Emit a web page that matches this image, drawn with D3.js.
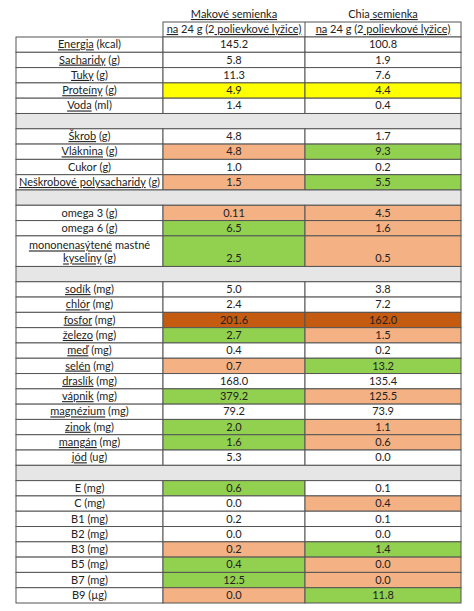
<!DOCTYPE html>
<html>
<head>
<meta charset="UTF-8">
<script src="https://cdn.jsdelivr.net/npm/d3@7"></script>
<style>
  body { margin: 0; background: #fff; }
  text { font-family: Lato, "Open Sans", sans-serif; font-size: 11px; fill: #222; }
  .sp { text-decoration: underline wavy #e03030; }
</style>
</head>
<body>
<svg id="chart" width="474" height="611"></svg>
<script>
// rows: label, poppy value, chia value ("" = gray separator row)
const labels = ['Energia (kcal)', 'Sacharidy (g)', 'Tuky (g)', 'Proteíny (g)', 'Voda (ml)', '',
  'Škrob (g)', 'Vláknina (g)', 'Cukor (g)', 'Neškrobové polysacharidy (g)', '',
  'omega 3 (g)', 'omega 6 (g)', 'mononenasýtené mastné|kyseliny (g)', '',
  'sodík (mg)', 'chlór (mg)', 'fosfor (mg)', 'železo (mg)', 'meď (mg)', 'selén (mg)', 'draslík (mg)',
  'vápnik (mg)', 'magnézium (mg)', 'zinok (mg)', 'mangán (mg)', 'jód (ug)', '',
  'E (mg)', 'C (mg)', 'B1 (mg)', 'B2 (mg)', 'B3 (mg)', 'B5 (mg)', 'B7 (mg)', 'B9 (µg)'];
const makValues = ['145.2', '5.8', '11.3', '4.9', '1.4', '', '4.8', '4.8', '1.0', '1.5', '',
  '0.11', '6.5', '2.5', '', '5.0', '2.4', '201.6', '2.7', '0.4', '0.7', '168.0', '379.2', '79.2',
  '2.0', '1.6', '5.3', '', '0.6', '0.0', '0.2', '0.0', '0.2', '0.4', '12.5', '0.0'];
const chiaValues = ['100.8', '1.9', '7.6', '4.4', '0.4', '', '1.7', '9.3', '0.2', '5.5', '',
  '4.5', '1.6', '0.5', '', '3.8', '7.2', '162.0', '1.5', '0.2', '13.2', '135.4', '125.5', '73.9',
  '1.1', '0.6', '0.0', '', '0.1', '0.4', '0.1', '0.0', '1.4', '0.0', '0.0', '11.8'];
// cell highlight: y yellow, s salmon, g green, o dark orange
const makColors = ['', '', '', 'y', '', '', '', 's', '', 's', '', 's', 'g', 'g', '', '', '', 'o', 'g', '', 's', '', 'g', '',
  'g', 'g', '', '', 'g', '', '', '', 's', 'g', 'g', 's'];
const chiaColors = ['', '', '', 'y', '', '', '', 'g', '', 'g', '', 's', 's', 's', '', '', '', 'o', 's', '', 'g', '', 's', '',
  's', 's', '', '', '', 's', '', '', 'g', 's', 's', 'g'];
const headers = ['Makové semienka', 'Chia semienka'];
const subHeader = 'na 24 g (2 polievkové lyžice)';
const misspelled = new Set(['Makové', 'semienka', 'na', 'polievkové', 'lyžice)', 'Energia', 'Sacharidy', 'Tuky',
  'Proteíny', 'Voda', 'Škrob', 'Vláknina', 'Neškrobové', 'polysacharidy', 'mononenasýtené', 'kyseliny',
  'sodík', 'chlór', 'fosfor', 'železo', 'meď', 'selén', 'draslík', 'vápnik', 'magnézium', 'zinok', 'mangán', 'jód']);

const fills = { y: '#ffff00', s: '#f4b183', g: '#92d050', o: '#c55a11', '': '#ffffff' };
const svg = d3.select('#chart');

// unit positions (double-height row for multi-line label)
const units = labels.map(l => l.includes('|') ? 2 : 1);
const starts = d3.cumsum([0, ...units]);
const total = starts[starts.length - 1];
const y = d3.scaleLinear().domain([0, total]).range([37, 603]);
const x = d3.scaleOrdinal().domain(['label', 'mak', 'chia', 'end']).range([16, 163, 305, 461]);

function addWords(t, str) {
  str.split(' ').forEach((w, i) => {
    t.append('tspan').attr('class', misspelled.has(w) ? 'sp' : null).text((i ? ' ' : '') + w);
  });
}

// header
headers.forEach((h, i) => {
  const cx = (x(['mak', 'chia'][i]) + x(['chia', 'end'][i])) / 2;
  const t = svg.append('text').attr('x', cx).attr('y', 18).attr('text-anchor', 'middle');
  addWords(t, h);
  const t2 = svg.append('text').attr('x', cx).attr('y', 33).attr('text-anchor', 'middle');
  addWords(t2, subHeader);
});
svg.append('rect').attr('x', x('mak')).attr('y', 22).attr('width', x('end') - x('mak')).attr('height', 15)
  .attr('fill', 'none').attr('stroke', '#555');
svg.append('line').attr('x1', x('chia')).attr('x2', x('chia')).attr('y1', 22).attr('y2', 37).attr('stroke', '#555');

labels.forEach((lab, i) => {
  const y0 = y(starts[i]), y1 = y(starts[i + 1]);
  const g = svg.append('g');
  if (lab === '') {
    g.append('rect').attr('x', x('label')).attr('y', y0).attr('width', x('end') - x('label')).attr('height', y1 - y0)
      .attr('fill', '#e7e6e6').attr('stroke', '#555');
    return;
  }
  const cols = [['label', 'mak', '', lab], ['mak', 'chia', makColors[i], makValues[i]], ['chia', 'end', chiaColors[i], chiaValues[i]]];
  cols.forEach(([a, b, c, v]) => {
    g.append('rect').attr('x', x(a)).attr('y', y0).attr('width', x(b) - x(a)).attr('height', y1 - y0)
      .attr('fill', fills[c]).attr('stroke', '#555');
    const lines = v.split('|');
    lines.forEach((ln, k) => {
      const t = g.append('text').attr('x', (x(a) + x(b)) / 2)
        .attr('y', y1 - 4 - (lines.length - 1 - k) * 13).attr('text-anchor', 'middle');
      if (a === 'label') addWords(t, ln); else t.text(ln);
    });
  });
});
</script>
</body>
</html>
